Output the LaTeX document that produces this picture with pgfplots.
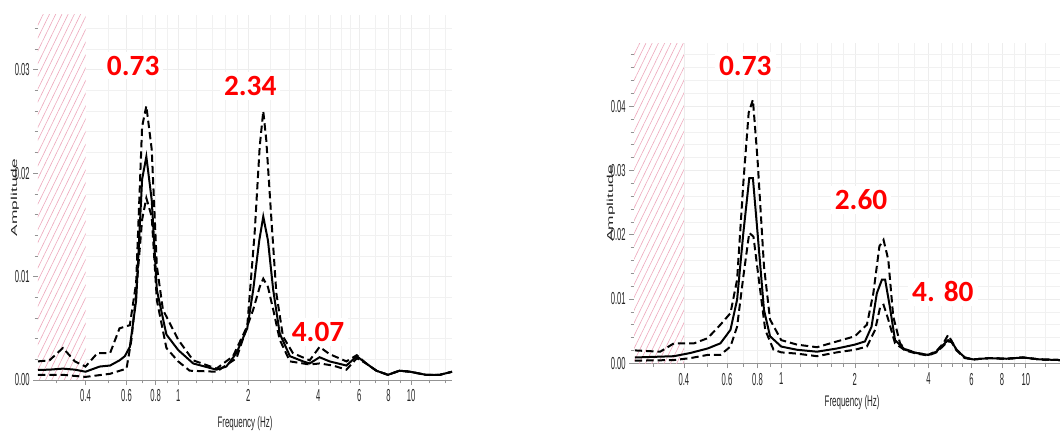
\documentclass[border=0pt]{standalone}
\usepackage{fontspec}
\usepackage{graphicx}
\usepackage{pgfplots}
\usepackage{pgfplotstable}
\pgfplotsset{compat=1.18}
\usetikzlibrary{patterns.meta}
\setmainfont{Liberation Sans}
\newfontfamily\axfont[FakeStretch=0.52]{Liberation Sans}
\newfontfamily\tickfont[FakeStretch=0.44]{Liberation Sans}
\newfontfamily\redfont{Carlito}
\definecolor{hatch}{RGB}{238,168,188}
\definecolor{redlab}{RGB}{255,0,0}

\pgfplotstableread{
f a
0.25 0.00097
0.28 0.0010
0.32 0.0011
0.36 0.0010
0.40 0.0008
0.46 0.0013
0.51 0.0014
0.56 0.0019
0.59 0.0023
0.62 0.0032
0.66 0.0077
0.70 0.0194
0.73 0.0216
0.77 0.0174
0.81 0.0087
0.89 0.0044
1.00 0.0029
1.16 0.0016
1.46 0.0010
1.61 0.0013
1.78 0.0026
1.98 0.0050
2.10 0.0087
2.23 0.0135
2.32 0.0158
2.43 0.0135
2.56 0.0087
2.73 0.0045
3.02 0.0023
3.44 0.0018
3.67 0.0016
4.05 0.0022
4.47 0.0018
5.28 0.0014
5.85 0.0023
6.42 0.0016
7.10 0.0009
7.96 0.0005
8.93 0.0009
9.90 0.0008
11.6 0.0005
13.3 0.0005
15.0 0.0008
}\Lmean
\pgfplotstableread{
f a
0.25 0.0018
0.28 0.0019
0.32 0.0031
0.36 0.0018
0.40 0.0013
0.45 0.0026
0.51 0.0026
0.56 0.0050
0.62 0.0053
0.66 0.0094
0.70 0.0245
0.73 0.0265
0.77 0.0223
0.81 0.0110
0.86 0.0068
1.00 0.0039
1.16 0.0019
1.46 0.0011
1.72 0.0023
1.98 0.0052
2.13 0.0142
2.24 0.0226
2.32 0.0260
2.39 0.0232
2.51 0.0158
2.64 0.0084
2.82 0.0042
3.11 0.0026
3.67 0.0019
4.05 0.0032
4.47 0.0025
5.28 0.0018
5.85 0.0024
6.42 0.0016
7.10 0.0009
7.96 0.0005
8.93 0.0009
9.90 0.0008
11.6 0.0005
13.3 0.0005
15.0 0.0008
}\Lup
\pgfplotstableread{
f a
0.25 0.0005
0.32 0.0005
0.40 0.0003
0.51 0.0006
0.60 0.0011
0.63 0.0039
0.66 0.0084
0.70 0.0155
0.73 0.0176
0.77 0.0158
0.81 0.0077
0.89 0.0031
1.00 0.0018
1.12 0.0009
1.46 0.0008
1.78 0.0021
1.98 0.0052
2.10 0.0068
2.24 0.0090
2.32 0.0098
2.43 0.0090
2.56 0.0068
2.73 0.0039
3.02 0.0018
3.67 0.0015
4.05 0.0016
4.62 0.0014
5.28 0.0010
5.85 0.0021
6.42 0.0016
7.10 0.0009
7.96 0.0005
8.93 0.0009
9.90 0.0008
11.6 0.0005
13.3 0.0005
15.0 0.0008
}\Llow

\pgfplotstableread{
f a
0.252 0.0009
0.364 0.0011
0.425 0.0016
0.50 0.0023
0.564 0.0031
0.62 0.0052
0.66 0.0099
0.70 0.0203
0.74 0.0288
0.766 0.0288
0.80 0.0203
0.85 0.0083
0.90 0.0042
1.00 0.0026
1.16 0.0021
1.40 0.0018
1.69 0.0023
2.00 0.0029
2.20 0.0034
2.34 0.0057
2.46 0.0109
2.58 0.0130
2.66 0.0130
2.78 0.0088
2.92 0.0036
3.21 0.0021
3.58 0.0016
3.99 0.0013
4.31 0.0018
4.60 0.0029
4.81 0.0036
4.97 0.0034
5.21 0.0021
5.63 0.0009
6.09 0.0006
7.10 0.0008
8.33 0.0007
9.72 0.0009
11.4 0.0006
13.8 0.0005
}\Rmean
\pgfplotstableread{
f a
0.252 0.0020
0.32 0.0018
0.364 0.0031
0.44 0.0031
0.50 0.0039
0.564 0.0060
0.62 0.0078
0.66 0.0130
0.70 0.0281
0.736 0.0390
0.766 0.0410
0.80 0.0317
0.85 0.0151
0.90 0.0068
1.00 0.0036
1.16 0.0029
1.40 0.0025
1.69 0.0034
2.00 0.0042
2.24 0.0060
2.38 0.0109
2.52 0.0182
2.62 0.0192
2.74 0.0161
2.87 0.0073
3.06 0.0031
3.21 0.0022
3.58 0.0016
3.99 0.0013
4.31 0.0019
4.60 0.0031
4.81 0.0044
4.97 0.0035
5.21 0.0021
5.63 0.0009
6.09 0.0006
7.10 0.0008
8.33 0.0007
9.72 0.0009
11.4 0.0006
13.8 0.0005
}\Rup
\pgfplotstableread{
f a
0.252 0.0004
0.364 0.0005
0.425 0.0008
0.50 0.0013
0.564 0.0013
0.62 0.0026
0.66 0.0057
0.70 0.0135
0.74 0.0203
0.77 0.0197
0.81 0.0130
0.86 0.0052
0.93 0.0021
1.00 0.0017
1.16 0.0015
1.40 0.0011
1.69 0.0017
2.00 0.0021
2.24 0.0026
2.42 0.0052
2.54 0.0088
2.62 0.0091
2.74 0.0068
2.92 0.0031
3.21 0.0020
3.58 0.0015
3.99 0.0012
4.31 0.0017
4.60 0.0027
4.81 0.0034
4.97 0.0033
5.21 0.0020
5.63 0.0008
6.09 0.0006
7.10 0.0008
8.33 0.0007
9.72 0.0009
11.4 0.0006
13.8 0.0005
}\Rlow

\tikzset{redl/.style={font=\redfont\bfseries\fontsize{22}{24}\selectfont, text=redlab, fill=white, inner sep=3pt}}

\begin{document}
\begin{tikzpicture}
\useasboundingbox (0,0) rectangle (795pt,326.25pt);
% left panel
\begin{axis}[
  xmode=log, scale only axis, anchor=south west,
  at={(28.5pt,41.25pt)}, width=310.5pt, height=273.75pt,
  xmin=0.25, xmax=15, ymin=0, ymax=0.0353,
  scaled y ticks=false,
  axis lines*=left,
  axis line style={draw=gray!85, line width=0.6pt},
  tick align=outside,
  major tick length=3.75pt, minor tick length=2.6pt,
  tick style={draw=gray!85, line width=0.5pt},
  grid=both,
  major grid style={draw=gray!14, line width=0.5pt},
  minor grid style={draw=gray!11, line width=0.5pt},
  xtick={0.4,0.6,0.8,1,2,4,6,8,10},
  xticklabels={0.4,0.6,0.8,1,2,4,6,8,10},
  minor xtick={0.3,0.5,0.7,0.9,1.2,1.4,1.6,1.8,2.5,3,3.5,4.5,5,5.5,7,9,12,14},
  ytick={0,0.01,0.02,0.03},
  yticklabels={0.00,0.01,0.02,0.03},
  minor ytick={0.002,0.004,0.006,0.008,0.012,0.014,0.016,0.018,0.022,0.024,0.026,0.028,0.032,0.034},
  tick label style={font=\tickfont\fontsize{13}{14}\selectfont, text=black!85},
  yticklabel style={xshift=1pt},
  xlabel={Frequency (Hz)},
  ylabel={\scalebox{1}[0.5]{Amplitude}},
  xlabel style={font=\axfont\fontsize{11.5}{12}\selectfont, text=black!85, at={(axis description cs:0.5,-0.12)}, anchor=center},
  ylabel style={font=\fontsize{13}{14}\selectfont, text=black!85, at={(axis description cs:-0.0556,0.5)}, anchor=center},
]
\addplot[draw=none, preaction={fill=white}, pattern={Lines[angle=64,distance=4.2pt,line width=0.45pt]}, pattern color=hatch] coordinates {(0.25,0.0353) (0.4,0.0353)} \closedcycle;
\addplot[black, line width=1.5pt] table[x=f,y=a] {\Lmean};
\addplot[black, line width=1.5pt, dash pattern=on 5.5pt off 3pt] table[x=f,y=a] {\Lup};
\addplot[black, line width=1.5pt, dash pattern=on 5.5pt off 3pt] table[x=f,y=a] {\Llow};
\node[redl] at (axis cs:0.641,0.0304) {0.73};
\node[redl] at (axis cs:2.04,0.02845) {2.34};
\node[redl] at (axis cs:3.99,0.00465) {4.07};
\end{axis}
% right panel
\begin{axis}[
  xmode=log, scale only axis, anchor=south west,
  at={(475.5pt,53.8pt)}, width=319.5pt, height=240pt,
  xmin=0.25, xmax=13.8, ymin=0, ymax=0.0498,
  scaled y ticks=false,
  axis lines*=left,
  axis line style={draw=gray!85, line width=0.6pt},
  tick align=outside,
  major tick length=3.75pt, minor tick length=2.6pt,
  tick style={draw=gray!85, line width=0.5pt},
  grid=both,
  major grid style={draw=gray!14, line width=0.5pt},
  minor grid style={draw=gray!11, line width=0.5pt},
  xtick={0.4,0.6,0.8,1,2,4,6,8,10},
  xticklabels={0.4,0.6,0.8,1,2,4,6,8,10},
  minor xtick={0.3,0.5,0.7,0.9,1.2,1.4,1.6,1.8,2.5,3,3.5,4.5,5,5.5,7,9,12},
  ytick={0,0.01,0.02,0.03,0.04},
  yticklabels={0.00,0.01,0.02,0.03,0.04},
  minor ytick={0.002,0.004,0.006,0.008,0.012,0.014,0.016,0.018,0.022,0.024,0.026,0.028,0.032,0.034,0.036,0.038,0.042,0.044,0.046,0.048},
  tick label style={font=\tickfont\fontsize{13}{14}\selectfont, text=black!85},
  yticklabel style={xshift=1pt},
  xlabel={Frequency (Hz)},
  ylabel={\scalebox{1}[0.5]{Amplitude}},
  xlabel style={font=\axfont\fontsize{11.5}{12}\selectfont, text=black!85, at={(axis description cs:0.512,-0.122)}, anchor=center},
  ylabel style={font=\fontsize{13}{14}\selectfont, text=black!85, at={(axis description cs:-0.054,0.5)}, anchor=center},
]
\addplot[draw=none, preaction={fill=white}, pattern={Lines[angle=64,distance=4.2pt,line width=0.45pt]}, pattern color=hatch] coordinates {(0.25,0.0498) (0.4,0.0498)} \closedcycle;
\addplot[black, line width=1.5pt] table[x=f,y=a] {\Rmean};
\addplot[black, line width=1.5pt, dash pattern=on 5.5pt off 3pt] table[x=f,y=a] {\Rup};
\addplot[black, line width=1.5pt, dash pattern=on 5.5pt off 3pt] table[x=f,y=a] {\Rlow};
\node[redl] at (axis cs:0.713,0.0463) {0.73};
\node[redl] at (axis cs:2.12,0.02544) {2.60};
\node[redl] at (axis cs:4.58,0.0111) {4. 80};
\end{axis}
\end{tikzpicture}
\end{document}
